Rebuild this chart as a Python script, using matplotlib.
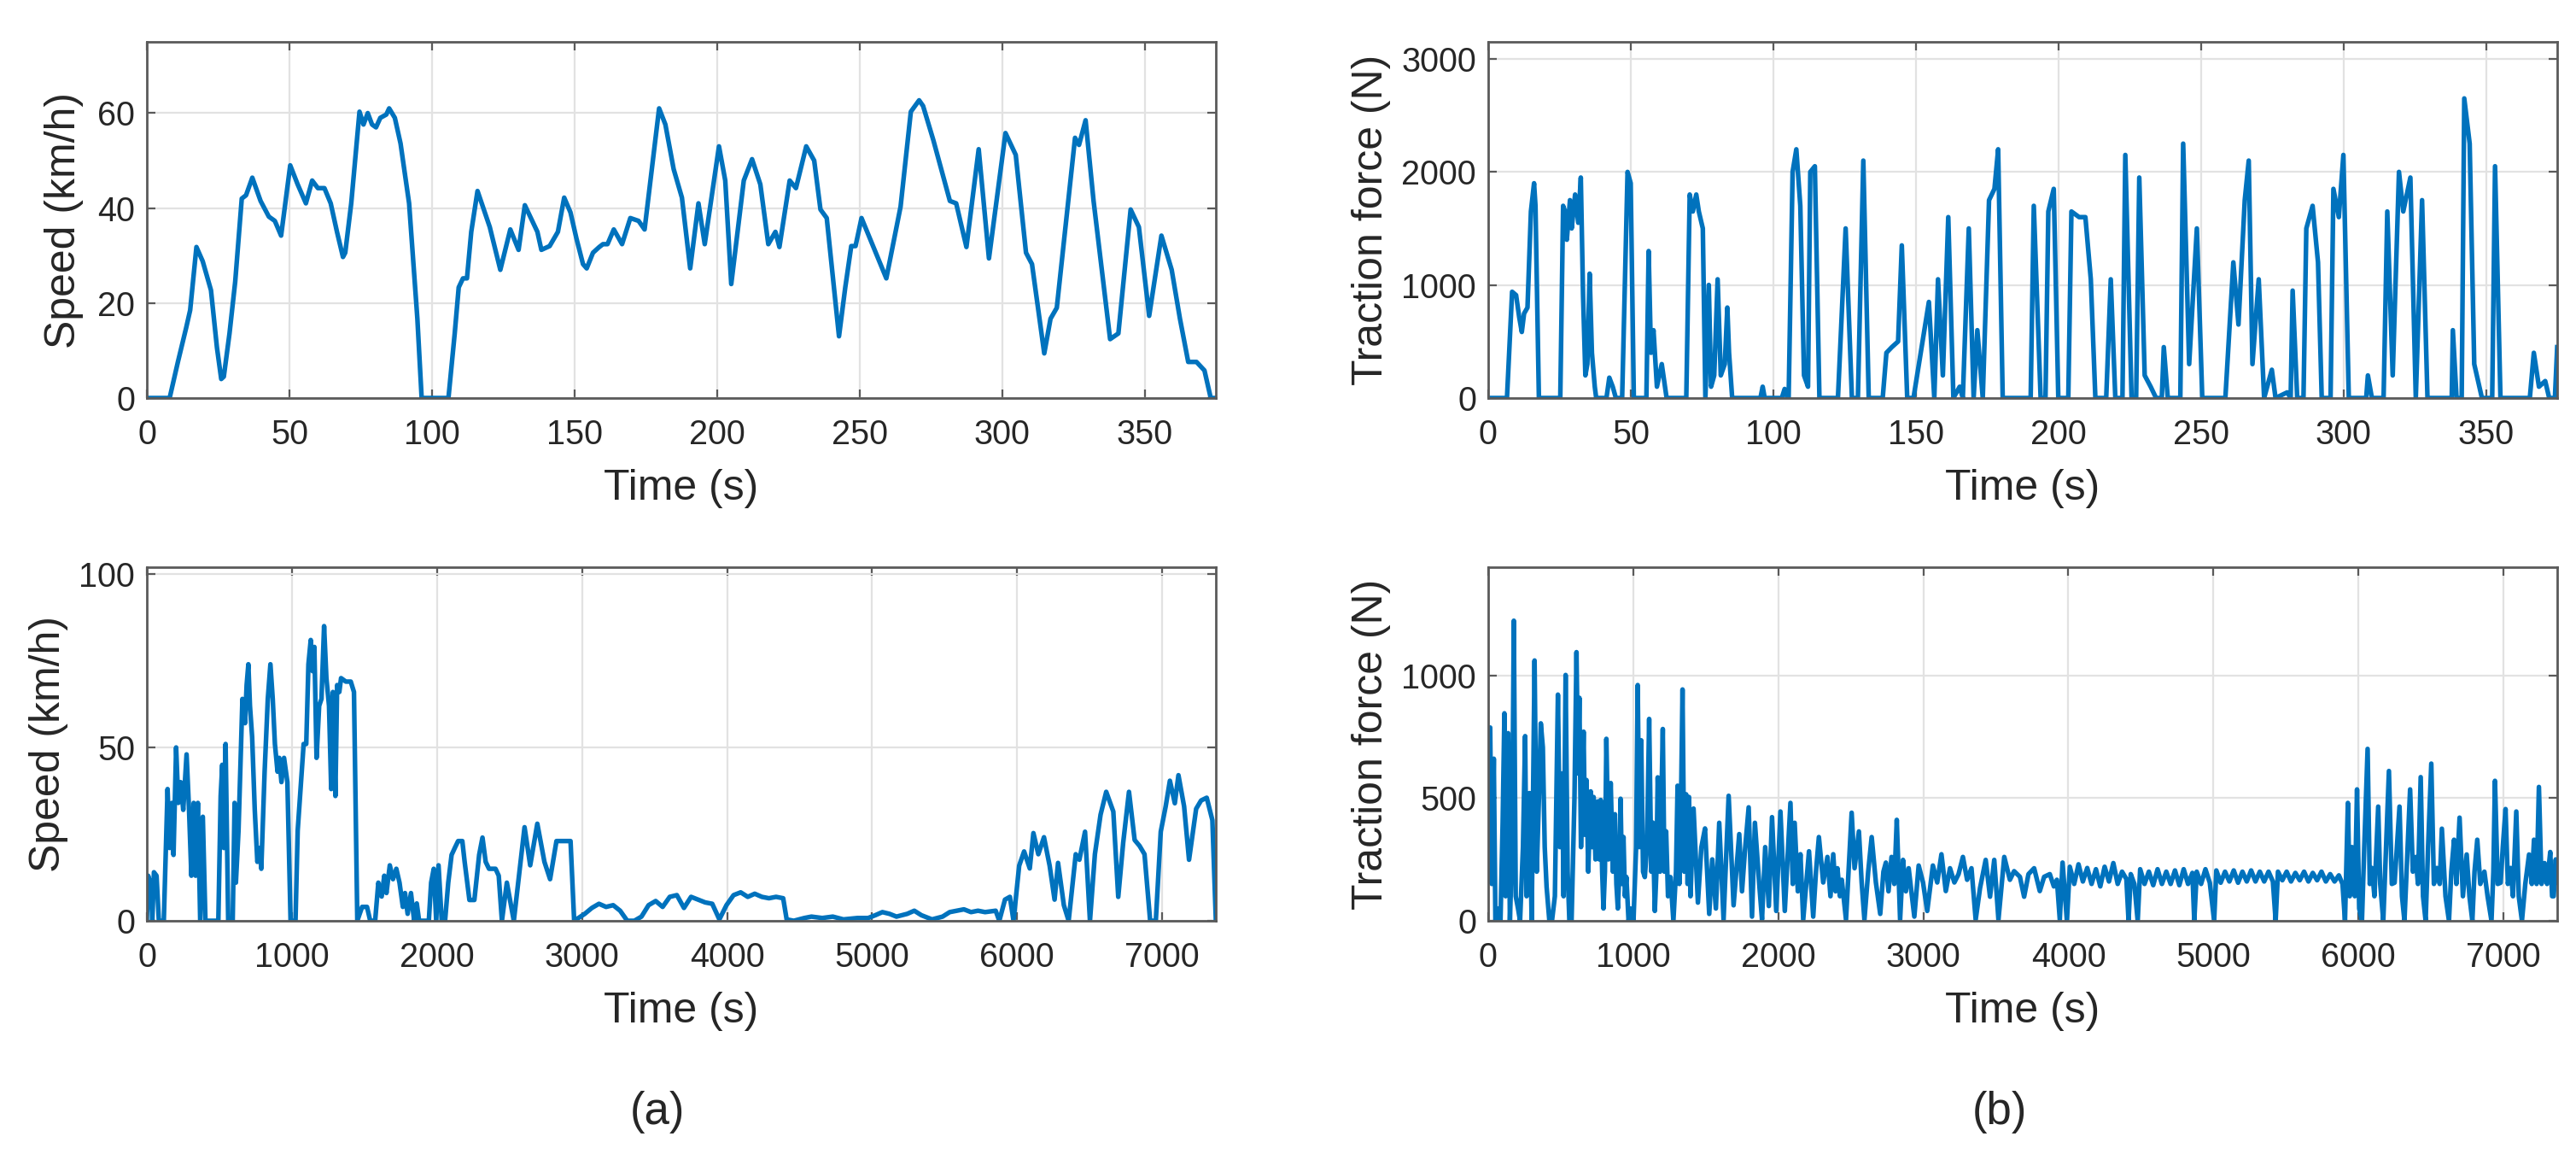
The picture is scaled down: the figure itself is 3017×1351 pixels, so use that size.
import numpy as np
import matplotlib.pyplot as plt

# ---- values ----

# (a) top: short drive cycle speed
t_speed_short = [0, 8, 10.9, 13.8, 15.2, 17.4, 19.6, 22.5, 24.6, 26.1,
                 27, 29, 31, 33.3, 34.8, 37, 39.9, 42.8, 44.9, 47.1,
                 50.3, 52.9, 55.8, 58, 60, 62.3, 64.5, 66.7, 68.8, 69.6,
                 71.7, 74.6, 76, 77.5, 79, 80.4, 81.9, 84, 85, 87,
                 89, 92, 94.9, 96.4, 105.8, 108, 109.4, 110.9, 112.3, 113.8,
                 116, 120.3, 124, 127.5, 130.4, 132.6, 137, 138.4, 141.3, 144.2,
                 146.4, 148.6, 150.7, 153, 154.3, 156.5, 158.7, 160, 161.6, 163.8,
                 166.7, 169.6, 172.5, 174.6, 179.7, 181.9, 184.8, 187.7, 190.6, 193.5,
                 195.7, 200.7, 202.9, 205, 209.4, 212.3, 215.2, 218, 220.5, 221.9,
                 225.5, 227.7, 231.3, 234.1, 236.3, 238.5, 242.8, 245, 247.1, 248.6,
                 250.7, 259.4, 264.4, 268, 270.9, 272.3, 275.9, 281.7, 283.9, 287.5,
                 291.8, 295.4, 301.2, 304.8, 308.4, 310.5, 314.8, 317, 319.2, 325.6,
                 327, 329.3, 332.1, 337.9, 340.8, 345.1, 348, 351.6, 355.9, 359.5,
                 362.4, 365.3, 368.2, 371, 373.2, 375]
speed_short = [0, 0, 7.6, 14.8, 18.5, 31.8, 28.8, 22.7, 10.6, 4,
               4.5, 13.6, 24.5, 42, 42.7, 46.4, 41.5, 38.2, 37.3, 34.2,
               49, 45, 41, 45.8, 44.2, 44.2, 41, 35, 29.7, 30.6,
               41, 60.3, 57.6, 60, 57.6, 57, 59, 59.7, 61, 59,
               53.6, 41, 16.7, 0, 0, 13.6, 23.3, 25.2, 25.2, 35,
               43.6, 36, 27, 35.5, 31.2, 40.6, 35, 31.2, 32, 35,
               42.2, 39.1, 33.6, 28.2, 27.3, 30.6, 31.8, 32.4, 32.4, 35.5,
               32.4, 37.9, 37.3, 35.5, 61, 57.6, 48.2, 42.2, 27.3, 41,
               32.4, 53, 45.8, 24, 45.8, 50.3, 45, 32.4, 35, 31.8,
               45.8, 44.2, 53, 50, 39.7, 37.9, 13, 23.3, 32, 32,
               37.9, 25.2, 40.3, 60.3, 62.7, 61.5, 54.3, 41.5, 41, 31.8,
               52.4, 29.4, 55.8, 51.2, 30.6, 28.2, 9.4, 16.7, 19, 54.8,
               53.3, 58.5, 41.5, 12.4, 13.6, 39.7, 36, 17.3, 34.2, 27,
               16.7, 7.6, 7.6, 5.8, 0, 0]

# (b) top: short drive cycle traction force
t_force_short = [0, 6.6, 8.4, 9.8, 10.9, 11.8, 12.6, 13.8, 15, 16.1,
                 16.6, 17.8, 25.3, 26.3, 27, 27.6, 28.7, 29.3, 30.5, 31.6,
                 32.5, 33.3, 34.1, 34.8, 35.6, 36.4, 37.4, 37.9, 41.5, 42.5,
                 43.7, 44.8, 47, 48.9, 50, 51.1, 55.5, 56.3, 57.1, 58,
                 59.2, 60.9, 62.6, 69.5, 70.7, 71.8, 73, 73.9, 75.3, 76.2,
                 77.4, 78.2, 79.3, 80.5, 81.6, 83, 83.9, 84.5, 85.6, 95.5,
                 96.3, 97, 103, 104, 105, 105.4, 106.8, 108.1, 109.5, 110.8,
                 112.2, 113, 114.6, 116.2, 122.7, 125.4, 127.6, 129.7, 131.6, 133.5,
                 138.4, 139.7, 141.6, 143.8, 145.1, 147, 149.2, 154.6, 156.5, 157.8,
                 159.5, 161.4, 163.2, 165.4, 166.5, 168.6, 170.3, 171.6, 173.5, 175.7,
                 177.6, 178.9, 180.5, 190.3, 191.4, 193.8, 195.5, 196.5, 198.4, 200,
                 203.5, 204.6, 207.3, 209.5, 211.4, 213, 216.8, 218.4, 220, 222.5,
                 223.5, 225.7, 227.3, 228.4, 230.3, 232.4, 234.3, 236.3, 237, 238.4,
                 242.8, 243.8, 245.9, 248.6, 250.5, 258.6, 261.4, 263.2, 265.4, 266.8,
                 268.1, 270.3, 272.2, 274.9, 276.2, 280.3, 281.5, 282.2, 283.8, 286,
                 287, 289.2, 291.1, 292.4, 295.5, 296.5, 298.4, 300, 301.9, 308,
                 308.6, 310, 314.1, 315.4, 317.3, 319.5, 321, 323.5, 325.4, 327.6,
                 329.5, 338, 338.4, 339.7, 341.5, 342.4, 344.3, 345.9, 348.6, 352.2,
                 353.2, 355.1, 365.4, 366.8, 368.6, 370.8, 372.2, 374.2, 375]
force_short = [0, 0, 940, 910, 714, 584, 747, 800, 1650, 1900,
               1700, 0, 0, 1700, 1650, 1400, 1750, 1500, 1800, 1550,
               1950, 900, 200, 300, 1100, 400, 100, 0, 0, 180,
               100, 0, 0, 2000, 1900, 0, 0, 1300, 400, 600,
               100, 300, 0, 0, 1800, 1650, 1800, 1650, 1500, 0,
               1000, 100, 200, 1050, 200, 300, 800, 400, 0, 0,
               100, 0, 0, 80, 0, 0, 2000, 2200, 1700, 200,
               100, 2000, 2050, 0, 0, 1500, 0, 0, 2100, 0,
               0, 400, 450, 500, 1350, 0, 0, 850, 0, 1050,
               200, 1600, 0, 100, 0, 1500, 0, 600, 0, 1750,
               1850, 2200, 0, 0, 1700, 0, 0, 1650, 1850, 0,
               0, 1650, 1600, 1600, 1050, 0, 0, 1050, 0, 0,
               2150, 0, 0, 1950, 200, 100, 0, 0, 450, 0,
               0, 2250, 300, 1500, 0, 0, 1200, 650, 1750, 2100,
               300, 1050, 0, 250, 0, 50, 0, 950, 0, 0,
               1500, 1700, 1200, 0, 0, 1850, 1600, 2150, 0, 0,
               200, 0, 0, 1650, 200, 2000, 1650, 1950, 0, 1750,
               0, 0, 600, 0, 0, 2650, 2250, 300, 0, 0,
               2050, 0, 0, 400, 100, 150, 0, 0, 450]

# (a) bottom: long drive cycle speed
t_speed_long = [0, 9, 27, 38, 49, 67, 83, 117, 143, 157,
                173, 184, 202, 217, 233, 251, 274, 291, 307, 323,
                336, 352, 368, 386, 404, 493, 509, 520, 531, 543,
                561, 592, 605, 614, 632, 650, 659, 677, 688, 700,
                711, 726, 744, 762, 778, 789, 812, 834, 852, 868,
                883, 901, 913, 928, 946, 969, 991, 1025, 1040, 1063,
                1081, 1099, 1114, 1130, 1143, 1155, 1170, 1188, 1204, 1222,
                1238, 1256, 1271, 1283, 1300, 1312, 1327, 1339, 1372, 1406,
                1428, 1451, 1484, 1518, 1540, 1574, 1596, 1619, 1637, 1652,
                1675, 1697, 1720, 1742, 1765, 1780, 1798, 1821, 1843, 1861,
                1877, 1944, 1960, 1978, 1995, 2011, 2033, 2056, 2078, 2101,
                2123, 2146, 2175, 2191, 2224, 2258, 2291, 2314, 2336, 2359,
                2404, 2426, 2448, 2482, 2530, 2604, 2643, 2692, 2741, 2780,
                2824, 2872, 2921, 2946, 3019, 3068, 3117, 3166, 3215, 3263,
                3312, 3361, 3410, 3459, 3508, 3556, 3605, 3654, 3703, 3752,
                3800, 3849, 3898, 3947, 3996, 4045, 4094, 4143, 4191, 4240,
                4289, 4338, 4387, 4411, 4460, 4533, 4582, 4656, 4729, 4802,
                4900, 4973, 5022, 5071, 5120, 5168, 5242, 5291, 5340, 5413,
                5486, 5535, 5584, 5633, 5682, 5730, 5779, 5852, 5877, 5916,
                5950, 5975, 6014, 6048, 6087, 6112, 6146, 6185, 6224, 6258,
                6282, 6322, 6355, 6404, 6429, 6468, 6502, 6536, 6575, 6614,
                6663, 6697, 6731, 6771, 6810, 6844, 6878, 6917, 6956, 6990,
                7024, 7053, 7087, 7112, 7151, 7185, 7234, 7268, 7307, 7346,
                7370]
speed_long = [0, 13, 10.6, 0, 14, 13, 0, 0, 38, 21,
              34, 19, 50, 34, 40, 32, 48, 32, 13, 34,
              13, 34, 0, 30, 0, 0, 36, 45, 21, 51,
              0, 0, 34, 11, 26, 51, 64, 57, 68, 74,
              62, 53, 32, 17, 21, 15, 43, 64, 74, 64,
              51, 43, 47, 40, 47, 40, 0, 0, 26, 40,
              51, 51, 74, 81, 72, 79, 47, 62, 64, 85,
              70, 62, 38, 66, 36, 68, 66, 70, 69, 69,
              66, 0, 4, 4, 0, 0, 11, 7, 13, 8,
              16, 12, 15, 11, 4, 8, 2, 8, 0, 5,
              0, 0, 11, 15, 0, 16, 0, 0, 11, 19,
              21, 23, 23, 17, 6, 6, 19, 24, 17, 15,
              15, 13, 0, 11, 0, 27, 16, 28, 17, 12,
              23, 23, 23, 0, 2, 3.7, 4.9, 4, 4.5, 2.9,
              0, 0, 1.2, 4.5, 5.7, 4, 6.9, 7.4, 3.7, 6.9,
              6.1, 5.3, 4.9, 0.4, 4.5, 7.4, 8.2, 6.9, 7.8, 6.9,
              6.5, 6.9, 6.5, 0.4, 0, 0.8, 1.2, 0.8, 1.2, 0.4,
              0.8, 0.8, 1.6, 2.5, 2, 1.2, 2, 2.9, 1.6, 0.4,
              1.2, 2.5, 2.9, 3.3, 2.5, 2.9, 2.5, 2.9, 0, 6.1,
              6.9, 0, 15.9, 20, 15.1, 25.3, 19.2, 24.1, 15.9, 6.1,
              16.7, 4.5, 0, 19.2, 17.6, 25.7, 0, 19.2, 30.6, 37.2,
              31.5, 6.9, 22.5, 37.2, 23.3, 21.6, 19.2, 0, 0, 25.7,
              33, 40.4, 33.9, 42, 33, 17.6, 32.3, 34.7, 35.5, 29,
              0]

# (b) bottom: long drive cycle traction force, in four stretches
t_force_a = [0, 14, 25, 39, 50, 69, 85, 100, 112, 120,
             138, 150, 165, 177, 190, 206, 220, 240, 255, 265,
             285, 300, 320, 335, 350, 363, 377, 390, 403, 422,
             440, 460, 481, 495, 510, 520, 534, 548, 560, 575,
             595, 609, 620, 629, 640, 658, 668, 678, 690, 707,
             717, 727, 740, 756, 766, 776, 786, 795, 805, 815,
             830, 845, 860, 874, 884, 894, 905, 913, 923, 933,
             943, 953, 968, 982, 1002, 1020, 1031, 1043, 1055, 1068,
             1080, 1095, 1110, 1125, 1135, 1149, 1160, 1169, 1185, 1195,
             1204, 1215, 1227, 1240, 1257, 1277, 1295, 1306, 1318, 1330,
             1340, 1352, 1365, 1375, 1385, 1395]
force_a = [780, 787, 150, 660, 0, 50, 0, 400, 845, 100,
           764, 0, 300, 1222, 100, 50, 0, 300, 752, 100,
           520, 0, 1060, 200, 500, 804, 706, 300, 137, 0,
           0, 100, 921, 300, 600, 100, 1001, 200, 0, 0,
           500, 1094, 600, 908, 300, 770, 350, 573, 200, 527,
           300, 504, 250, 486, 250, 492, 200, 50, 200, 741,
           250, 561, 200, 434, 150, 50, 200, 497, 150, 341,
           100, 178, 0, 50, 0, 300, 960, 300, 735, 200,
           178, 300, 822, 200, 400, 40, 200, 584, 200, 500,
           781, 200, 364, 100, 178, 0, 200, 550, 150, 500,
           942, 200, 515, 150, 504, 100]

t_force_b = [1416, 1446, 1470, 1495, 1524, 1545, 1570, 1593, 1623, 1658,
             1692, 1731, 1750, 1770, 1796, 1819, 1839, 1868, 1888, 1910,
             1935, 1957, 1986, 2015, 2045, 2084, 2100, 2113, 2135, 2153,
             2172, 2212, 2241, 2260, 2280, 2310, 2339, 2360, 2379, 2395,
             2408, 2425, 2438, 2467, 2506, 2526, 2556, 2575, 2594, 2620,
             2644, 2673, 2703, 2725, 2742, 2760, 2781, 2800, 2817, 2840,
             2860, 2880, 2899, 2938, 2968, 2998, 3027, 3066, 3096, 3125,
             3155, 3184, 3214, 3243, 3273, 3302, 3332, 3361, 3391, 3430,
             3460, 3489, 3518, 3558, 3597, 3626, 3666, 3695, 3725, 3764,
             3803, 3833, 3872, 3900, 3921, 3941, 3960]
force_b = [457, 74, 300, 376, 28, 250, 50, 399, 5, 509,
           63, 353, 120, 283, 462, 17, 399, 156, 5, 300,
           60, 422, 40, 445, 40, 480, 150, 399, 120, 271,
           5, 283, 17, 200, 341, 156, 260, 100, 271, 120,
           214, 100, 167, 5, 440, 214, 364, 156, 5, 200,
           341, 156, 28, 200, 237, 120, 260, 150, 411, 5,
           248, 120, 214, 17, 225, 156, 40, 225, 156, 271,
           121, 214, 156, 190, 260, 167, 214, 5, 133, 248,
           98, 248, 5, 260, 167, 202, 179, 98, 190, 214,
           121, 179, 190, 140, 167, 5, 237]

t_force_c = [3990, 4010, 4040, 4070, 4100, 4130, 4160, 4190, 4220, 4250,
             4280, 4310, 4340, 4370, 4400, 4415, 4430, 4455, 4478, 4495,
             4525, 4555, 4585, 4615, 4645, 4675, 4705, 4735, 4765, 4795,
             4825, 4855, 4868, 4885, 4915, 4945, 4975, 5005, 5020, 5050,
             5080, 5110, 5140, 5170, 5200, 5230, 5260, 5290, 5320, 5350,
             5380, 5410, 5429, 5445, 5475, 5505, 5535, 5565, 5595, 5625,
             5655, 5685, 5715, 5745, 5775, 5805, 5835, 5865, 5890, 5907]
force_c = [0, 220, 150, 230, 160, 215, 150, 210, 140, 220,
           160, 235, 150, 200, 170, 0, 190, 150, 0, 210,
           150, 200, 145, 210, 150, 200, 150, 205, 145, 210,
           150, 195, 0, 200, 150, 210, 155, 0, 205, 155,
           200, 160, 205, 155, 200, 160, 205, 160, 200, 160,
           200, 160, 0, 200, 165, 200, 160, 195, 165, 200,
           160, 195, 165, 200, 160, 190, 160, 185, 150, 0]

t_force_d = [5927, 5940, 5956, 5975, 5990, 6005, 6024, 6040, 6063, 6078,
             6093, 6110, 6136, 6150, 6171, 6190, 6210, 6230, 6249, 6265,
             6283, 6300, 6317, 6335, 6356, 6375, 6395, 6410, 6429, 6445,
             6463, 6480, 6502, 6520, 6541, 6560, 6575, 6600, 6624, 6640,
             6659, 6675, 6697, 6720, 6746, 6765, 6785, 6800, 6819, 6840,
             6868, 6890, 6917, 6930, 6941, 6960, 6980, 6995, 7014, 7030,
             7049, 7065, 7088, 7105, 7127, 7150, 7176, 7195, 7210, 7228,
             7244, 7262, 7283, 7300, 7322, 7335, 7346, 7360, 7370]
force_d = [480, 100, 300, 100, 535, 50, 0, 300, 700, 150,
           215, 100, 465, 150, 0, 300, 610, 150, 155, 300,
           465, 100, 0, 250, 535, 200, 260, 150, 585, 100,
           0, 300, 640, 150, 215, 150, 375, 100, 0, 200,
           330, 150, 420, 100, 270, 100, 0, 200, 330, 150,
           200, 100, 0, 200, 570, 150, 155, 300, 455, 150,
           215, 100, 445, 100, 0, 150, 270, 150, 330, 150,
           545, 150, 235, 150, 280, 100, 100, 250, 155]

t_force_long = t_force_a + t_force_b + t_force_c + t_force_d
force_long = force_a + force_b + force_c + force_d

xticks_short = [0, 50, 100, 150, 200, 250, 300, 350]
xticks_long = [0, 1000, 2000, 3000, 4000, 5000, 6000, 7000]

# ---- figure ----
plt.rcParams['font.family'] = ['Liberation Sans', 'DejaVu Sans']
fig = plt.figure(figsize=(30.17, 13.51), dpi=100)

line_col = '#0072BD'
text_col = '#262626'
lw = 3.9


def setup(ax, xlim, ylim, xticks, yticks, ylabel, ylab_x):
    ax.set_xlim(xlim)
    ax.set_ylim(ylim)
    ax.set_xticks(xticks)
    ax.set_yticks(yticks)
    ax.grid(True, color='#e2e2e2', lw=1.6)
    ax.set_axisbelow(True)
    for s in ax.spines.values():
        s.set_color('#5a5a5a')
        s.set_linewidth(2.0)
    ax.tick_params(direction='in', top=True, right=True, length=7, width=1.6,
                   color='#5a5a5a', labelsize=28.5, labelcolor=text_col)
    ax.tick_params(axis='x', pad=17)
    ax.tick_params(axis='y', pad=10)
    ax.set_xlabel('Time (s)', fontsize=36, color=text_col, va='center')
    ax.xaxis.set_label_coords(0.5, -0.255)
    ax.set_ylabel(ylabel, fontsize=36, color=text_col, va='center')
    ax.yaxis.set_label_coords(ylab_x, 0.5)


ax1 = fig.add_axes([0.0570, 0.6551, 0.4150, 0.3086])
ax1.plot(t_speed_short, speed_short, color=line_col, lw=lw)
setup(ax1, (0, 375), (0, 75), xticks_short, [0, 20, 40, 60], 'Speed (km/h)', -0.0775)

ax2 = fig.add_axes([0.0570, 0.2021, 0.4150, 0.3064])
ax2.plot(t_speed_long, speed_long, color=line_col, lw=lw)
setup(ax2, (0, 7370), (0, 102), xticks_long, [0, 50, 100], 'Speed (km/h)', -0.0918)

ax3 = fig.add_axes([0.5777, 0.6551, 0.4150, 0.3086])
ax3.plot(t_force_short, force_short, color=line_col, lw=lw)
setup(ax3, (0, 375), (0, 3150), xticks_short, [0, 1000, 2000, 3000], 'Traction force (N)', -0.1094)

ax4 = fig.add_axes([0.5777, 0.2021, 0.4150, 0.3064])
ax4.plot(t_force_long, force_long, color=line_col, lw=lw)
setup(ax4, (0, 7370), (0, 1440), xticks_long, [0, 500, 1000], 'Traction force (N)', -0.1094)

fig.text(0.2552, 0.0363, '(a)', fontsize=38, color=text_col, ha='center', va='center')
fig.text(0.7763, 0.0363, '(b)', fontsize=38, color=text_col, ha='center', va='center')

fig.savefig('out.png', dpi=100)
